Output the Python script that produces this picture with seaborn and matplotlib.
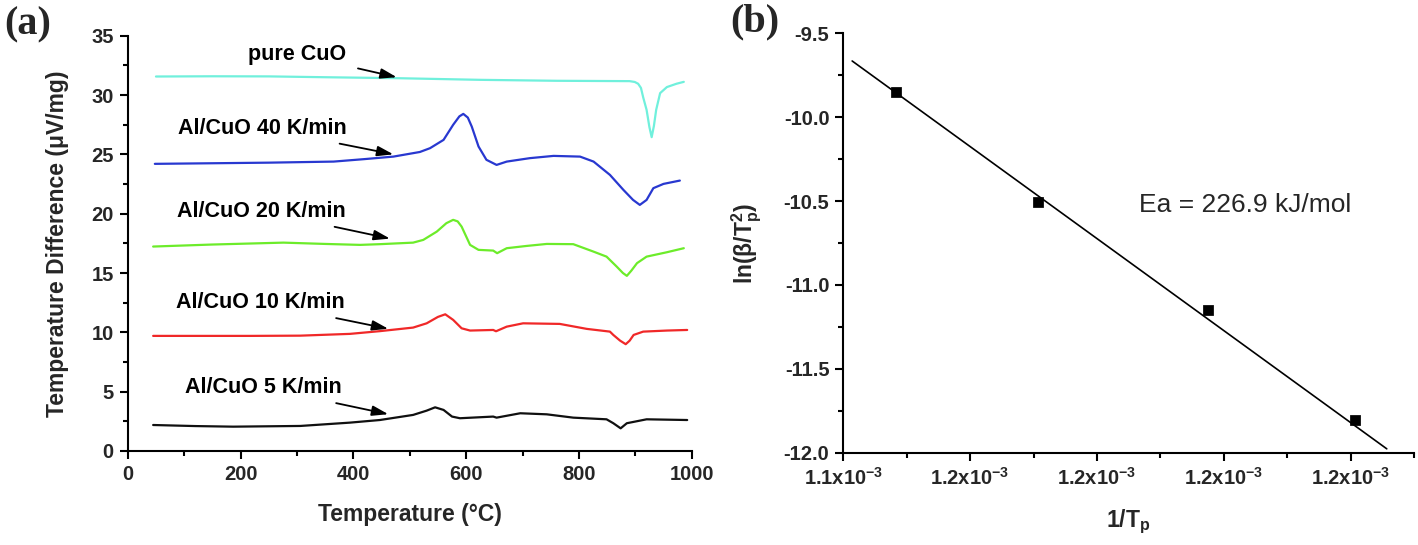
import numpy as np
import matplotlib
matplotlib.use("Agg")
import matplotlib.pyplot as plt
import seaborn as sns
from matplotlib.ticker import MultipleLocator, FixedLocator, FixedFormatter

sns.set_theme(style="ticks")
plt.rcParams['font.family'] = ['Liberation Sans', 'DejaVu Sans']
plt.rcParams['axes.unicode_minus'] = False
plt.rcParams['mathtext.fontset'] = 'custom'
plt.rcParams['mathtext.rm'] = 'Liberation Sans'
plt.rcParams['mathtext.bf'] = 'Liberation Sans:bold'
plt.rcParams['mathtext.it'] = 'Liberation Sans:italic'

# ---- (a) DSC curves: temperature (C) vs signal (uV/mg) ----
cuo_T = [50, 150, 250, 350, 477, 625, 760, 890, 899, 905, 910, 914, 920, 925, 929, 933, 937, 944, 956, 973, 986]
cuo_S = [31.56, 31.58, 31.57, 31.5, 31.42, 31.28, 31.2, 31.17, 31.1, 30.95, 30.6, 29.8, 28.75, 27.3, 26.45, 27.4, 28.75, 30.16, 30.67, 30.95, 31.11]

al40_T = [48, 150, 250, 365, 420, 471, 518, 536, 560, 577, 588, 595, 603, 610, 622, 636, 654, 672, 713, 755, 802, 826, 855, 879, 896, 908, 920, 932, 950, 979]
al40_S = [24.2, 24.25, 24.3, 24.39, 24.6, 24.81, 25.2, 25.52, 26.22, 27.49, 28.2, 28.41, 28.1, 27.34, 25.66, 24.54, 24.11, 24.39, 24.68, 24.87, 24.81, 24.39, 23.27, 22.0, 21.16, 20.74, 21.16, 22.15, 22.51, 22.79]

al20_T = [45, 150, 276, 350, 412, 447, 506, 524, 548, 565, 577, 585, 592, 607, 622, 648, 655, 672, 707, 743, 790, 826, 849, 867, 878, 885, 893, 903, 920, 956, 986]
al20_S = [17.23, 17.4, 17.56, 17.45, 17.37, 17.43, 17.56, 17.79, 18.49, 19.2, 19.48, 19.35, 18.91, 17.37, 16.95, 16.89, 16.67, 17.09, 17.28, 17.45, 17.43, 16.8, 16.38, 15.54, 15.0, 14.76, 15.2, 15.83, 16.38, 16.75, 17.09]

al10_T = [45, 130, 217, 306, 394, 447, 506, 530, 550, 563, 577, 592, 607, 648, 653, 672, 701, 766, 814, 855, 861, 873, 883, 890, 897, 914, 956, 992]
al10_S = [9.7, 9.7, 9.7, 9.72, 9.87, 10.1, 10.4, 10.76, 11.3, 11.52, 11.05, 10.34, 10.15, 10.2, 10.09, 10.48, 10.76, 10.71, 10.29, 10.06, 9.78, 9.3, 9.0, 9.3, 9.78, 10.06, 10.15, 10.2]

al5_T = [45, 120, 187, 306, 394, 447, 506, 530, 545, 560, 575, 589, 648, 654, 696, 743, 790, 849, 861, 874, 885, 920, 992]
al5_S = [2.19, 2.1, 2.05, 2.11, 2.39, 2.61, 3.04, 3.4, 3.68, 3.46, 2.9, 2.76, 2.9, 2.81, 3.18, 3.09, 2.81, 2.67, 2.34, 1.91, 2.34, 2.67, 2.61]

curve_T = [cuo_T, al40_T, al20_T, al10_T, al5_T]
curve_S = [cuo_S, al40_S, al20_S, al10_S, al5_S]
curve_colors = ['#70f0dc', '#2838d0', '#6cec2a', '#f02828', '#101010']
curve_names = ['pure CuO', 'Al/CuO 40 K/min', 'Al/CuO 20 K/min', 'Al/CuO 10 K/min', 'Al/CuO 5 K/min']
# label anchor (text right end) and arrow tip, in data coords
label_xy = [(388, 33.4), (388, 27.2), (387, 20.2), (385, 12.5), (379, 5.34)]
arrow_tip = [(477, 31.5), (471, 25.0), (465, 17.9), (462, 10.3), (462, 3.1)]

# ---- (b) Kissinger plot ----
inv_tp = [1.1483e-3, 1.1707e-3, 1.1975e-3, 1.2207e-3]
ln_beta = [-9.852, -10.504, -11.152, -11.808]
fit_x = [1.1414e-3, 1.2257e-3]
fit_y = [-9.665, -11.977]
b_xticks = [1.14e-3, 1.16e-3, 1.18e-3, 1.20e-3, 1.22e-3]
b_xticklabels = ['1.1', '1.2', '1.2', '1.2', '1.2']
ea_text = 'Ea = 226.9 kJ/mol'

fig = plt.figure(figsize=(14.18, 5.45), dpi=100)
ax1 = fig.add_axes([0.0901, 0.1725, 0.3977, 0.762])
ax2 = fig.add_axes([0.5947, 0.1694, 0.4025, 0.7695])

for T, S, c in zip(curve_T, curve_S, curve_colors):
    sns.lineplot(x=T, y=S, color=c, linewidth=1.6, sort=False, estimator=None, ax=ax1)

for name, (tx, ty), (ax_, ay_) in zip(curve_names, label_xy, arrow_tip):
    ax1.annotate(name, xy=(ax_, ay_), xytext=(tx, ty), ha='right', va='center',
                 fontsize=15.5, fontweight='bold', color='black',
                 arrowprops=dict(arrowstyle='-|>,head_length=0.7,head_width=0.22',
                                 color='black', lw=1.3, shrinkA=6, shrinkB=0,
                                 mutation_scale=14))

ax1.set_xlim(0, 1000)
ax1.set_ylim(0, 35)
ax1.xaxis.set_major_locator(MultipleLocator(200))
ax1.xaxis.set_minor_locator(MultipleLocator(100))
ax1.yaxis.set_major_locator(MultipleLocator(5))
ax1.yaxis.set_minor_locator(MultipleLocator(2.5))
ax1.set_xlabel('Temperature (°C)', fontsize=16.5, fontweight='bold', labelpad=14)
ax1.set_ylabel('Temperature Difference (μV/mg)', fontsize=16.5, fontweight='bold', labelpad=16)

sns.lineplot(x=fit_x, y=fit_y, color='black', linewidth=1.2, ax=ax2)
sns.scatterplot(x=inv_tp, y=ln_beta, marker='s', s=45, color='black', edgecolor='black', ax=ax2, zorder=3)
ax2.text(1.2033e-3, -10.524, ea_text, ha='center', va='center', fontsize=19)

ax2.set_xlim(1.14e-3, 1.23e-3)
ax2.set_ylim(-12.0, -9.5)
ax2.xaxis.set_major_locator(FixedLocator(b_xticks))
ax2.xaxis.set_major_formatter(FixedFormatter([l + 'x10$^{\\mathbf{-3}}$' for l in b_xticklabels]))
ax2.xaxis.set_minor_locator(MultipleLocator(0.01e-3))
ax2.yaxis.set_major_locator(MultipleLocator(0.5))
ax2.yaxis.set_minor_locator(MultipleLocator(0.25))
ax2.yaxis.set_major_formatter(plt.FormatStrFormatter('%.1f'))
ax2.set_xlabel('1/T$_{\\mathbf{p}}$', fontsize=16.5, fontweight='bold', labelpad=14)
ax2.set_ylabel('ln(β/T$_{\\mathbf{p}}^{\\mathbf{2}}$)', fontsize=16.5, fontweight='bold', labelpad=14)

for ax in (ax1, ax2):
    sns.despine(ax=ax)
    for sp in ('left', 'bottom'):
        ax.spines[sp].set_linewidth(1.5)
        ax.spines[sp].set_color('black')
    ax.tick_params(which='major', direction='out', length=6, width=1.5, labelsize=14.5, color='black', pad=4)
    ax.tick_params(which='minor', direction='out', length=3.5, width=1.5, color='black')
    for lab in ax.get_xticklabels() + ax.get_yticklabels():
        lab.set_fontweight('bold')

fig.text(0.003, 0.955, '(a)', fontsize=29, fontweight='bold', family=['Liberation Serif'], va='center')
fig.text(0.515, 0.96, '(b)', fontsize=29, fontweight='bold', family=['Liberation Serif'], va='center')

fig.savefig('out.png', dpi=100)
